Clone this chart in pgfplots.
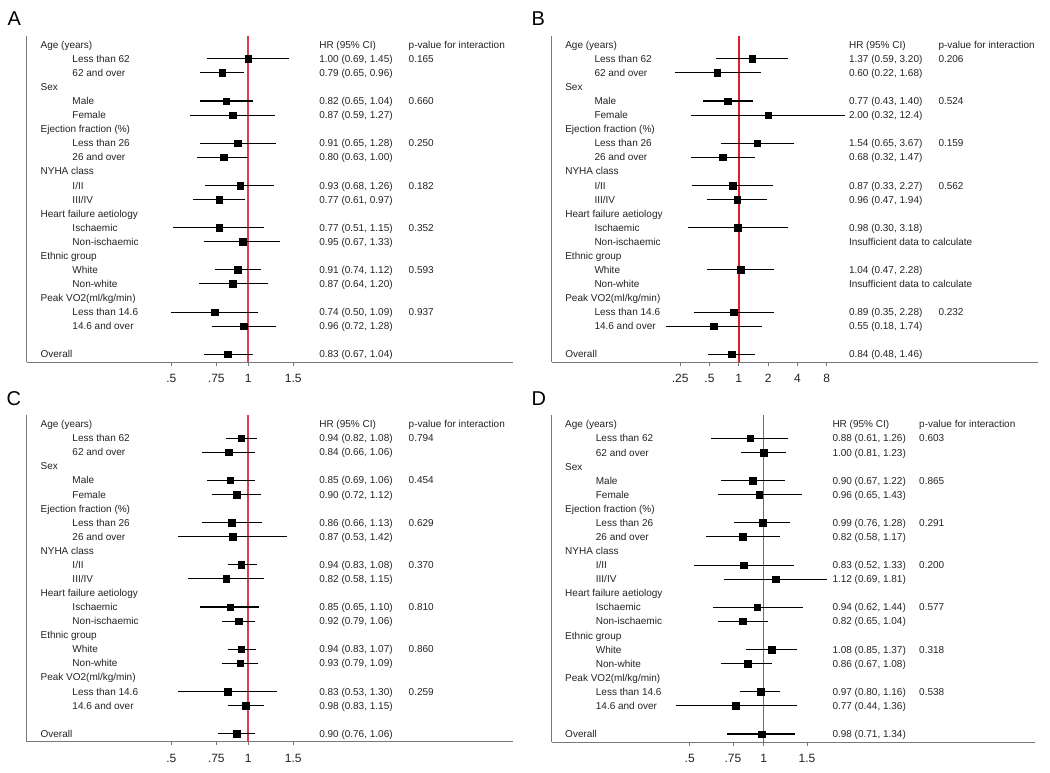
\documentclass[border=0pt]{standalone}
\usepackage{pgfplots}
\pgfplotsset{compat=1.18}
\usepackage{pgfplotstable}
\usepackage{fontspec}
\setmainfont{Liberation Sans}

\definecolor{refred}{RGB}{220,60,80}
\definecolor{refredB}{RGB}{222,30,40}
\definecolor{refredD}{RGB}{218,58,78}
\definecolor{axgray}{RGB}{120,120,120}
\definecolor{txt}{RGB}{35,35,35}

\pgfplotstableread{
row hr lo hi
1 1.00 0.69 1.45
2 0.79 0.65 0.96
4 0.82 0.65 1.04
5 0.87 0.59 1.27
7 0.91 0.65 1.28
8 0.80 0.63 1.00
10 0.93 0.68 1.26
11 0.77 0.61 0.97
13 0.77 0.51 1.15
14 0.95 0.67 1.33
16 0.91 0.74 1.12
17 0.87 0.64 1.20
19 0.74 0.50 1.09
20 0.96 0.72 1.28
22 0.83 0.67 1.04
}\dataA

\pgfplotstableread{
row hr lo hi
1 1.37 0.59 3.20
2 0.60 0.22 1.68
4 0.77 0.43 1.40
5 2.00 0.32 12.4
7 1.54 0.65 3.67
8 0.68 0.32 1.47
10 0.87 0.33 2.27
11 0.96 0.47 1.94
13 0.98 0.30 3.18
16 1.04 0.47 2.28
19 0.89 0.35 2.28
20 0.55 0.18 1.74
22 0.84 0.48 1.46
}\dataB

\pgfplotstableread{
row hr lo hi
1 0.94 0.82 1.08
2 0.84 0.66 1.06
4 0.85 0.69 1.06
5 0.90 0.72 1.12
7 0.86 0.66 1.13
8 0.87 0.53 1.42
10 0.94 0.83 1.08
11 0.82 0.58 1.15
13 0.85 0.65 1.10
14 0.92 0.79 1.06
16 0.94 0.83 1.07
17 0.93 0.79 1.09
19 0.83 0.53 1.30
20 0.98 0.83 1.15
22 0.90 0.76 1.06
}\dataC

\pgfplotstableread{
row hr lo hi
1 0.88 0.61 1.26
2 1.00 0.81 1.23
4 0.90 0.67 1.22
5 0.96 0.65 1.43
7 0.99 0.76 1.28
8 0.82 0.58 1.17
10 0.83 0.52 1.33
11 1.12 0.69 1.81
13 0.94 0.62 1.44
14 0.82 0.65 1.04
16 1.08 0.85 1.37
17 0.86 0.67 1.08
19 0.97 0.80 1.16
20 0.77 0.44 1.36
22 0.98 0.71 1.34
}\dataD

\tikzset{lab/.style={anchor=base west, yshift=-3.6pt, inner sep=0pt, text=txt, font=\fontsize{10}{12}\selectfont}}
\newcommand{\lab}[3]{\node[lab] at ({rel axis cs:#1,0}|-{axis cs:0,#2}) {#3};}
\newcommand{\hrp}[5]{\lab{#1}{#3}{#4}\lab{#2}{#3}{#5}}
\newcommand{\commonlabels}[1]{%
\lab{0.0276}{0}{Age (years)}
\lab{#1}{1}{Less than 62}
\lab{#1}{2}{62 and over}
\lab{0.0276}{3}{Sex}
\lab{#1}{4}{Male}
\lab{#1}{5}{Female}
\lab{0.0276}{6}{Ejection fraction (\%)}
\lab{#1}{7}{Less than 26}
\lab{#1}{8}{26 and over}
\lab{0.0276}{9}{NYHA class}
\lab{#1}{10}{I/II}
\lab{#1}{11}{III/IV}
\lab{0.0276}{12}{Heart failure aetiology}
\lab{#1}{13}{Ischaemic}
\lab{#1}{14}{Non-ischaemic}
\lab{0.0276}{15}{Ethnic group}
\lab{#1}{16}{White}
\lab{#1}{17}{Non-white}
\lab{0.0276}{18}{Peak VO2(ml/kg/min)}
\lab{#1}{19}{Less than 14.6}
\lab{#1}{20}{14.6 and over}
\lab{0.0276}{22}{Overall}
}

\pgfplotsset{
  myforest/.style={
    scale only axis, y dir=reverse, clip=false,
    axis x line*=bottom, axis y line*=left,
    ytick=\empty,
    xtick align=outside, major tick length=3.5pt,
    axis line style={axgray, line width=1pt},
    tick style={axgray, line width=0.9pt},
    xticklabel style={font=\fontsize{12}{14}\selectfont, text=txt, yshift=-5pt},
  },
  myci/.style={only marks, mark=square*, mark size=3.3pt, black,
    error bars/x dir=both, error bars/x explicit, error bars/error mark=none,
    error bars/error bar style={line width=1.1pt, black}},
}
\newcommand{\ciplot}[1]{\addplot[myci] table[x expr={ln(\thisrow{hr})}, y=row,
  x error plus expr={ln(\thisrow{hi})-ln(\thisrow{hr})},
  x error minus expr={ln(\thisrow{hr})-ln(\thisrow{lo})}] {#1};}

\begin{document}
\begin{tikzpicture}
\path[use as bounding box] (0pt,0pt) rectangle (1050pt,-772pt);

\node[anchor=base west, inner sep=0pt, font=\fontsize{20}{22}\selectfont] at (7.5pt,-25pt) {A};
\node[anchor=base west, inner sep=0pt, font=\fontsize{20}{22}\selectfont] at (531.5pt,-25pt) {B};
\node[anchor=base west, inner sep=0pt, font=\fontsize{20}{22}\selectfont] at (6.5pt,-405.7pt) {C};
\node[anchor=base west, inner sep=0pt, font=\fontsize{20}{22}\selectfont] at (531.5pt,-405.7pt) {D};

% Panel D (drawn first)
\begin{axis}[myforest, at={(551.7pt,-415pt)}, anchor=north west,
  width=483.3pt, height=327.3pt, xmin=-1.985, xmax=2.540, ymin=-0.66, ymax=22.59,
  xtick={-0.693147,-0.287682,0,0.405465}, xticklabels={.5,.75,1,1.5}]
\addplot[fill=refredD, draw=none, mark=none] coordinates {(-0.0072,-0.66) (0.0072,-0.66) (0.0072,22.59) (-0.0072,22.59)};
\ciplot{\dataD}
\commonlabels{0.091}
\hrp{0.5806}{0.760}{0}{HR (95\% CI)}{p-value for interaction}
\hrp{0.5806}{0.760}{1}{0.88 (0.61, 1.26)}{0.603}
\hrp{0.5806}{0.760}{2}{1.00 (0.81, 1.23)}{}
\hrp{0.5806}{0.760}{4}{0.90 (0.67, 1.22)}{0.865}
\hrp{0.5806}{0.760}{5}{0.96 (0.65, 1.43)}{}
\hrp{0.5806}{0.760}{7}{0.99 (0.76, 1.28)}{0.291}
\hrp{0.5806}{0.760}{8}{0.82 (0.58, 1.17)}{}
\hrp{0.5806}{0.760}{10}{0.83 (0.52, 1.33)}{0.200}
\hrp{0.5806}{0.760}{11}{1.12 (0.69, 1.81)}{}
\hrp{0.5806}{0.760}{13}{0.94 (0.62, 1.44)}{0.577}
\hrp{0.5806}{0.760}{14}{0.82 (0.65, 1.04)}{}
\hrp{0.5806}{0.760}{16}{1.08 (0.85, 1.37)}{0.318}
\hrp{0.5806}{0.760}{17}{0.86 (0.67, 1.08)}{}
\hrp{0.5806}{0.760}{19}{0.97 (0.80, 1.16)}{0.538}
\hrp{0.5806}{0.760}{20}{0.77 (0.44, 1.36)}{}
\hrp{0.5806}{0.760}{22}{0.98 (0.71, 1.34)}{}
\end{axis}

% Panel A
\begin{axis}[myforest, at={(27pt,-36pt)}, anchor=north west,
  width=486pt, height=326pt, xmin=-1.993, xmax=2.386, ymin=-0.62, ymax=22.55,
  xtick={-0.693147,-0.287682,0,0.405465}, xticklabels={.5,.75,1,1.5}]
\addplot[refred, line width=1.5pt] coordinates {(0,-0.62) (0,22.55)};
\ciplot{\dataA}
\commonlabels{0.0932}
\hrp{0.601}{0.785}{0}{HR (95\% CI)}{p-value for interaction}
\hrp{0.601}{0.785}{1}{1.00 (0.69, 1.45)}{0.165}
\hrp{0.601}{0.785}{2}{0.79 (0.65, 0.96)}{}
\hrp{0.601}{0.785}{4}{0.82 (0.65, 1.04)}{0.660}
\hrp{0.601}{0.785}{5}{0.87 (0.59, 1.27)}{}
\hrp{0.601}{0.785}{7}{0.91 (0.65, 1.28)}{0.250}
\hrp{0.601}{0.785}{8}{0.80 (0.63, 1.00)}{}
\hrp{0.601}{0.785}{10}{0.93 (0.68, 1.26)}{0.182}
\hrp{0.601}{0.785}{11}{0.77 (0.61, 0.97)}{}
\hrp{0.601}{0.785}{13}{0.77 (0.51, 1.15)}{0.352}
\hrp{0.601}{0.785}{14}{0.95 (0.67, 1.33)}{}
\hrp{0.601}{0.785}{16}{0.91 (0.74, 1.12)}{0.593}
\hrp{0.601}{0.785}{17}{0.87 (0.64, 1.20)}{}
\hrp{0.601}{0.785}{19}{0.74 (0.50, 1.09)}{0.937}
\hrp{0.601}{0.785}{20}{0.96 (0.72, 1.28)}{}
\hrp{0.601}{0.785}{22}{0.83 (0.67, 1.04)}{}
\end{axis}

% Panel B
\begin{axis}[myforest, at={(551.7pt,-36pt)}, anchor=north west,
  width=486.3pt, height=326pt, xmin=-4.423, xmax=7.073, ymin=-0.62, ymax=22.55,
  xtick={-1.386294,-0.693147,0,0.693147,1.386294,2.079442}, xticklabels={.25,.5,1,2,4,8}]
\addplot[refredB, line width=1.5pt] coordinates {(0,-0.62) (0,22.55)};
\ciplot{\dataB}
\commonlabels{0.0876}
\hrp{0.611}{0.795}{0}{HR (95\% CI)}{p-value for interaction}
\hrp{0.611}{0.795}{1}{1.37 (0.59, 3.20)}{0.206}
\hrp{0.611}{0.795}{2}{0.60 (0.22, 1.68)}{}
\hrp{0.611}{0.795}{4}{0.77 (0.43, 1.40)}{0.524}
\hrp{0.611}{0.795}{5}{2.00 (0.32, 12.4)}{}
\hrp{0.611}{0.795}{7}{1.54 (0.65, 3.67)}{0.159}
\hrp{0.611}{0.795}{8}{0.68 (0.32, 1.47)}{}
\hrp{0.611}{0.795}{10}{0.87 (0.33, 2.27)}{0.562}
\hrp{0.611}{0.795}{11}{0.96 (0.47, 1.94)}{}
\hrp{0.611}{0.795}{13}{0.98 (0.30, 3.18)}{}
\hrp{0.611}{0.795}{14}{Insufficient data to calculate}{}
\hrp{0.611}{0.795}{16}{1.04 (0.47, 2.28)}{}
\hrp{0.611}{0.795}{17}{Insufficient data to calculate}{}
\hrp{0.611}{0.795}{19}{0.89 (0.35, 2.28)}{0.232}
\hrp{0.611}{0.795}{20}{0.55 (0.18, 1.74)}{}
\hrp{0.611}{0.795}{22}{0.84 (0.48, 1.46)}{}
\end{axis}

% Panel C
\begin{axis}[myforest, at={(27pt,-415pt)}, anchor=north west,
  width=486pt, height=326.7pt, xmin=-1.993, xmax=2.386, ymin=-0.64, ymax=22.57,
  xtick={-0.693147,-0.287682,0,0.405465}, xticklabels={.5,.75,1,1.5}]
\addplot[refred, line width=1.5pt] coordinates {(0,-0.64) (0,22.57)};
\ciplot{\dataC}
\commonlabels{0.0932}
\hrp{0.601}{0.785}{0}{HR (95\% CI)}{p-value for interaction}
\hrp{0.601}{0.785}{1}{0.94 (0.82, 1.08)}{0.794}
\hrp{0.601}{0.785}{2}{0.84 (0.66, 1.06)}{}
\hrp{0.601}{0.785}{4}{0.85 (0.69, 1.06)}{0.454}
\hrp{0.601}{0.785}{5}{0.90 (0.72, 1.12)}{}
\hrp{0.601}{0.785}{7}{0.86 (0.66, 1.13)}{0.629}
\hrp{0.601}{0.785}{8}{0.87 (0.53, 1.42)}{}
\hrp{0.601}{0.785}{10}{0.94 (0.83, 1.08)}{0.370}
\hrp{0.601}{0.785}{11}{0.82 (0.58, 1.15)}{}
\hrp{0.601}{0.785}{13}{0.85 (0.65, 1.10)}{0.810}
\hrp{0.601}{0.785}{14}{0.92 (0.79, 1.06)}{}
\hrp{0.601}{0.785}{16}{0.94 (0.83, 1.07)}{0.860}
\hrp{0.601}{0.785}{17}{0.93 (0.79, 1.09)}{}
\hrp{0.601}{0.785}{19}{0.83 (0.53, 1.30)}{0.259}
\hrp{0.601}{0.785}{20}{0.98 (0.83, 1.15)}{}
\hrp{0.601}{0.785}{22}{0.90 (0.76, 1.06)}{}
\end{axis}
\end{tikzpicture}
\end{document}
